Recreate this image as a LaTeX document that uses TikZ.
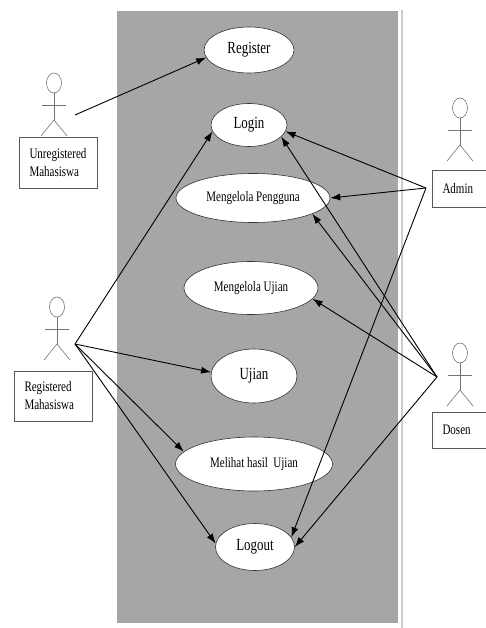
\documentclass[tikz,border=0pt]{standalone}
\usepackage{fontspec}
\setmainfont[FakeStretch=0.76]{Liberation Serif}
\usetikzlibrary{shapes.geometric,arrows.meta}

\begin{document}
\begin{tikzpicture}[x=1pt,y=-1pt,
        usecase/.style={ellipse, draw=black!80, line width=0.6pt, fill=white, inner sep=0pt},
        big/.style={font=\fontsize{17}{20}\selectfont},
        small/.style={font=\fontsize{14.5}{18}\selectfont},
        actorbox/.style={draw=black!65, line width=0.7pt, fill=white, align=left, text width=57pt, inner xsep=10.5pt, font=\fontsize{14.5}{18}\selectfont},
        limb/.style={draw=black!55, line width=0.6pt},
        link/.style={-{Latex[length=10pt,width=7pt]}, line width=0.9pt}]
    \useasboundingbox (0,0) rectangle (486,628);
    \fill[white] (0,0) rectangle (486,628);

    \fill[black!35] (117,11) rectangle (398,623);
    \draw[black!20, line width=2pt] (402,10) -- (402,628);

    \node[usecase, big, minimum width=90pt, minimum height=46pt] (register) at (249,50) {Register};
    \node[usecase, big, minimum width=76pt, minimum height=43pt] (login) at (249,125) {Login};
    \node[usecase, small, minimum width=154pt, minimum height=49pt] (pengguna) at (253,198) {Mengelola Pengguna};
    \node[usecase, small, minimum width=134pt, minimum height=53pt] (kelolaUjian) at (251,288) {Mengelola Ujian};
    \node[usecase, big, minimum width=86pt, minimum height=54pt] (ujian) at (254,376) {Ujian};
    \node[usecase, small, minimum width=157pt, minimum height=54pt] (hasil) at (254,464) {Melihat hasil~~Ujian};
    \node[usecase, big, minimum width=79pt, minimum height=47pt] (logout) at (255,547) {Logout};

    \foreach \x/\y in {54/83, 57/307, 460/108, 460/353} {
        \draw[limb] (\x,\y) ellipse [x radius=7.5pt, y radius=10pt];
        \draw[limb] (\x,\y+10) -- (\x,\y+37);
        \draw[limb] (\x-12,\y+22) -- (\x+12,\y+22);
        \draw[limb] (\x-13,\y+53) -- (\x,\y+37) -- (\x+13,\y+53);
    }

    \node[actorbox, minimum height=51pt] (unreg) at (58,162.5) {Unregistered\\Mahasiswa};
    \node[actorbox, minimum height=50pt] (reg) at (53,396) {Registered\\Mahasiswa};
    \node[actorbox, minimum height=37pt] (admin) at (471,188.5) {Admin};
    \node[actorbox, minimum height=36pt] (dosen) at (471,430) {Dosen};

    \coordinate (unregHand) at (75,115);
    \coordinate (regHand) at (75,344);
    \coordinate (adminHand) at (426,188);
    \coordinate (dosenHand) at (437,377);

    \draw[link] (unregHand) -- (register.190);
    \foreach \t in {login.190, ujian.175, hasil.170, logout.175}
        \draw[link] (regHand) -- (\t);
    \foreach \t in {login.-10, pengguna.east, logout.15}
        \draw[link] (adminHand) -- (\t);
    \foreach \t in {login.-20, pengguna.-15, kelolaUjian.-10, logout.east}
        \draw[link] (dosenHand) -- (\t);
\end{tikzpicture}
\end{document}
